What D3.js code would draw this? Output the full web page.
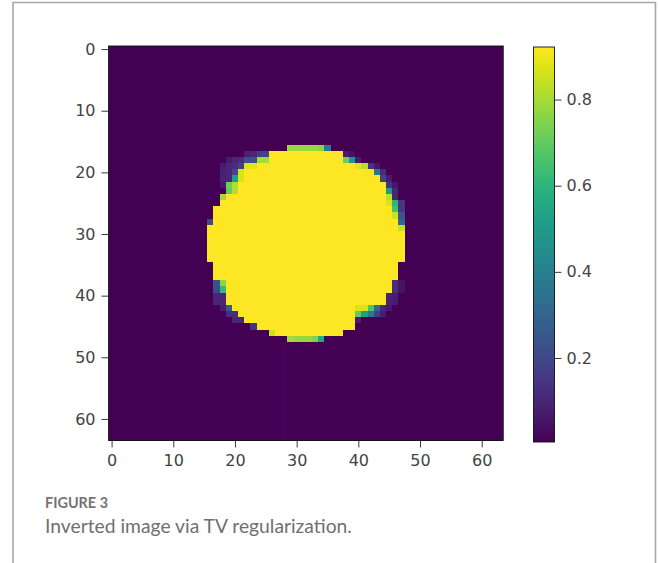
<!DOCTYPE html>
<html>
<head>
<meta charset="utf-8">
<script src="https://cdn.jsdelivr.net/npm/d3@7"></script>
<style>
  html, body { margin: 0; padding: 0; background: #ffffff; }
  svg { display: block; }
</style>
</head>
<body>
<svg id="chart" width="658" height="563"></svg>
<script>
// ---- image data: 64x64 reconstruction ----
const gridSize = 64;
const backgroundLevel = 0.005;
const discLevel = 0.922;

// bright disc: for each row, first and last column at full level
const discRows  = [16,17,18,19,20,21,22,23,24,25,26,27,28,29,30,31,32,33,34,35,36,37,38,39,40,41,42,43,44,45,46,47];
const discStart = [29,26,24,22,21,20,19,19,18,18,17,17,17,16,16,16,16,16,16,17,17,17,17,17,19,19,20,21,22,24,26,29];
const discEnd   = [34,37,39,41,42,43,44,44,45,45,46,46,46,47,47,47,47,47,47,46,46,46,45,45,44,44,43,42,39,39,37,34];

// rim pixels with intermediate values: [row, col, value]
const edgeCells = [
  [16,29,0.78],[16,30,0.78],[16,31,0.78],[16,32,0.78],[16,33,0.78],[16,34,0.76],[16,35,0.38],
  [17,22,0.09],[17,23,0.11],[17,24,0.17],[17,25,0.19],[17,38,0.07],[17,39,0.04],
  [18,19,0.07],[18,20,0.10],[18,21,0.12],[18,22,0.24],[18,23,0.24],[18,24,0.80],[18,25,0.80],
  [18,38,0.72],[18,39,0.48],[18,40,0.08],
  [19,18,0.07],[19,19,0.11],[19,20,0.12],[19,21,0.18],[19,22,0.88],[19,23,0.88],
  [19,40,0.88],[19,41,0.82],[19,42,0.14],[19,43,0.06],
  [20,18,0.09],[20,19,0.10],[20,20,0.20],[20,21,0.87],[20,43,0.37],[20,44,0.12],
  [21,18,0.09],[21,19,0.11],[21,20,0.52],[21,21,0.87],[21,44,0.18],[21,45,0.08],
  [22,18,0.06],[22,19,0.72],[22,20,0.82],[22,45,0.14],[22,46,0.06],
  [23,19,0.70],[23,20,0.82],[23,45,0.50],[23,46,0.10],
  [24,18,0.80],[24,45,0.83],[24,46,0.10],
  [25,45,0.87],[25,46,0.60],[25,47,0.15],
  [26,46,0.65],[26,47,0.15],
  [27,46,0.85],[27,47,0.25],
  [28,16,0.20],[28,47,0.30],
  [29,47,0.84],
  [38,17,0.24],[38,18,0.76],
  [39,17,0.21],[39,18,0.62],
  [40,17,0.10],[40,18,0.10],[41,17,0.10],[41,18,0.10],
  [42,18,0.08],[42,19,0.26],
  [43,19,0.12],[43,20,0.12],
  [44,20,0.10],[44,21,0.10],
  [45,23,0.13],
  [46,26,0.85],
  [47,29,0.80],[47,30,0.78],[47,31,0.78],[47,32,0.78],[47,33,0.75],[47,34,0.55],
  [38,46,0.12],[39,46,0.12],[38,47,0.05],[39,47,0.05],
  [40,45,0.09],[40,46,0.07],[41,45,0.09],[41,46,0.07],
  [42,40,0.87],[42,41,0.87],[42,42,0.66],[42,43,0.30],[42,44,0.10],[42,45,0.06],
  [43,40,0.70],[43,41,0.52],[43,42,0.36],[43,43,0.18],[43,44,0.08],
  [44,40,0.08]
];

// faint streak below the disc: column and rows
const streakCol = 28;
const streakRows = [48,49,50,51,52,53,54,55,56,57,58,59,60,61,62,63];
const streakLevel = 0.014;

const xTicks = [0, 10, 20, 30, 40, 50, 60];
const yTicks = [0, 10, 20, 30, 40, 50, 60];
const colorTicks = [0.2, 0.4, 0.6, 0.8];
const valueRange = [0.005, 0.922];

const captionTitle = "FIGURE 3";
const captionText = "Inverted image via TV regularization.";

// ---- assemble the pixel grid ----
const grid = [];
for (let r = 0; r < gridSize; r++) {
  for (let c = 0; c < gridSize; c++) grid.push({ r, c, v: backgroundLevel });
}
const cell = (r, c) => grid[r * gridSize + c];
discRows.forEach((r, i) => {
  for (let c = discStart[i]; c <= discEnd[i]; c++) cell(r, c).v = discLevel;
});
streakRows.forEach(r => { cell(r, streakCol).v = streakLevel; });
edgeCells.forEach(([r, c, v]) => { cell(r, c).v = v; });

// ---- drawing ----
const svg = d3.select("#chart");
const tickFont = "'DejaVu Sans', sans-serif";
const tickColor = "#444444";

// figure frame
svg.append("path")
  .attr("d", "M13,566 V2.5 H655.5 V566")
  .attr("fill", "none")
  .attr("stroke", "#a6a6a6")
  .attr("stroke-width", 1.6);

const x = d3.scaleLinear().domain([-0.5, gridSize - 0.5]).range([108.5, 503.3]);
const y = d3.scaleLinear().domain([-0.5, gridSize - 0.5]).range([46, 440.5]);
const color = d3.scaleSequential(d3.interpolateViridis).domain(valueRange);

svg.append("g")
  .attr("shape-rendering", "crispEdges")
  .selectAll("rect")
  .data(grid)
  .join("rect")
  .attr("x", d => x(d.c - 0.5))
  .attr("y", d => y(d.r - 0.5))
  .attr("width", d => x(d.c + 0.5) - x(d.c - 0.5))
  .attr("height", d => y(d.r + 0.5) - y(d.r - 0.5))
  .attr("fill", d => color(d.v));

// image spines
svg.append("rect")
  .attr("x", x(-0.5)).attr("y", y(-0.5))
  .attr("width", x(gridSize - 0.5) - x(-0.5))
  .attr("height", y(gridSize - 0.5) - y(-0.5))
  .attr("fill", "none").attr("stroke", "#111").attr("stroke-width", 0.9);

function styleAxis(g) {
  g.select(".domain").remove();
  g.selectAll(".tick line").attr("stroke", "#222").attr("stroke-width", 0.9);
  g.selectAll(".tick text")
    .attr("fill", tickColor)
    .style("font-family", tickFont)
    .style("font-size", "16px");
}

svg.append("g")
  .attr("transform", `translate(${x(-0.5)},0)`)
  .call(d3.axisLeft(y).tickValues(yTicks).tickSize(7).tickPadding(6).tickFormat(d3.format("d")))
  .call(styleAxis);

svg.append("g")
  .attr("transform", `translate(0,${y(gridSize - 0.5)})`)
  .call(d3.axisBottom(x).tickValues(xTicks).tickSize(7).tickPadding(7).tickFormat(d3.format("d")))
  .call(styleAxis);

// ---- colorbar ----
const cb = { x0: 533.5, x1: 554.5, y0: 47, y1: 442 };
const defs = svg.append("defs");
const grad = defs.append("linearGradient")
  .attr("id", "cbar").attr("x1", 0).attr("y1", 1).attr("x2", 0).attr("y2", 0);
d3.range(0, 1.0001, 0.05).forEach(t => {
  grad.append("stop").attr("offset", t).attr("stop-color", d3.interpolateViridis(t));
});
svg.append("rect")
  .attr("x", cb.x0).attr("y", cb.y0)
  .attr("width", cb.x1 - cb.x0).attr("height", cb.y1 - cb.y0)
  .attr("fill", "url(#cbar)")
  .attr("stroke", "#111").attr("stroke-width", 0.9);

const cbScale = d3.scaleLinear().domain(valueRange).range([cb.y1, cb.y0]);
svg.append("g")
  .attr("transform", `translate(${cb.x1},0)`)
  .call(d3.axisRight(cbScale).tickValues(colorTicks).tickSize(7).tickPadding(5).tickFormat(d3.format(".1f")))
  .call(styleAxis);

// ---- caption ----
function fitText(sel, targetWidth) {
  const w = sel.node().getComputedTextLength();
  const fs = parseFloat(sel.style("font-size"));
  sel.style("font-size", (fs * targetWidth / w).toFixed(2) + "px");
}
const t1 = svg.append("text")
  .attr("x", 45).attr("y", 508)
  .attr("fill", "#747474")
  .style("font-family", "Lato, 'Open Sans', sans-serif")
  .style("font-weight", 700)
  .style("font-size", "14px")
  .text(captionTitle);
fitText(t1, 63);

const t2 = svg.append("text")
  .attr("x", 45).attr("y", 532.5)
  .attr("fill", "#707070")
  .style("font-family", "Lato, 'Open Sans', sans-serif")
  .style("font-size", "17px")
  .text(captionText);
fitText(t2, 307);
</script>
</body>
</html>
